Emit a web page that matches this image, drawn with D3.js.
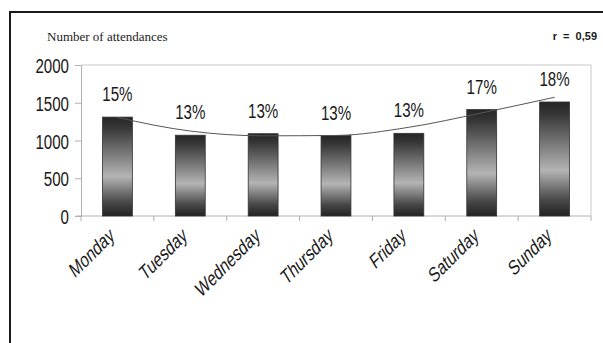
<!DOCTYPE html>
<html>
<head>
<meta charset="utf-8">
<script src="https://cdn.jsdelivr.net/npm/d3@7"></script>
<style>
  html, body { margin: 0; padding: 0; background: #fff; }
  svg { display: block; }
</style>
</head>
<body>
<svg id="chart" width="603" height="343"></svg>
<script>
// Attendances per weekday
const days = ["Monday", "Tuesday", "Wednesday", "Thursday", "Friday", "Saturday", "Sunday"];
const attendances = [1310, 1070, 1090, 1065, 1095, 1410, 1510];
const shareLabels = ["15%", "13%", "13%", "13%", "13%", "17%", "18%"];
// fitted trend curve, value at each weekday
const trend = [1305, 1125, 1062, 1067, 1175, 1365, 1573];
const yTicks = [0, 500, 1000, 1500, 2000];

const svg = d3.select("#chart");
const W = 603, H = 343;
const plot = { left: 81, right: 591, top: 65, bottom: 216 };

const x = d3.scaleBand().domain(days).range([plot.left, plot.right]).paddingInner(0).paddingOuter(0);
const y = d3.scaleLinear().domain([0, 2000]).range([plot.bottom, plot.top]);
const barW = x.bandwidth() * 0.41;

// outer frame (cut at right and bottom)
svg.append("path")
  .attr("d", `M10,${H + 2} L10,12 L${W + 2},12`)
  .attr("fill", "none").attr("stroke", "#1a1a1a").attr("stroke-width", 2);

// bar gradient: dark ends, light band below the middle
const defs = svg.append("defs");
const grad = defs.append("linearGradient").attr("id", "barGrad")
  .attr("x1", 0).attr("y1", 0).attr("x2", 0).attr("y2", 1);
[[0, "#262626"], [0.1, "#353535"], [0.6, "#b4b4b4"], [0.86, "#484848"], [1, "#222"]]
  .forEach(([o, c]) => grad.append("stop").attr("offset", o).attr("stop-color", c));

// plot area frame (top and right)
svg.append("path")
  .attr("d", `M${plot.left},${plot.top} L${plot.right},${plot.top} L${plot.right},${plot.bottom}`)
  .attr("fill", "none").attr("stroke", "#c8c8c8").attr("stroke-width", 1);

// y axis
const yAxis = svg.append("g").attr("transform", `translate(${plot.left},0)`)
  .call(d3.axisLeft(y).tickValues(yTicks).tickSize(6).tickPadding(6).tickFormat(d3.format("d")));
yAxis.select(".domain").attr("stroke", "#b0b0b0");
yAxis.selectAll(".tick line").attr("stroke", "#b0b0b0");
yAxis.selectAll(".tick text")
  .attr("font-family", "'Liberation Sans', Arial, sans-serif")
  .attr("font-size", 21).attr("fill", "#1a1a1a")
  .attr("dy", "0.36em")
  .attr("transform", function () {
    const xx = +d3.select(this).attr("x");
    return `translate(${xx},0) scale(0.72,1) translate(${-xx},0)`;
  });

// x axis with ticks on band edges
const xAxisG = svg.append("g").attr("transform", `translate(0,${plot.bottom})`);
xAxisG.append("line").attr("x1", plot.left - 5).attr("x2", plot.right)
  .attr("stroke", "#b0b0b0");
xAxisG.selectAll("line.tk").data(d3.range(days.length + 1)).join("line").attr("class", "tk")
  .attr("x1", i => plot.left + i * x.step()).attr("x2", i => plot.left + i * x.step())
  .attr("y1", 0).attr("y2", 5).attr("stroke", "#b0b0b0");

// bars
svg.append("g").selectAll("rect").data(days).join("rect")
  .attr("x", d => x(d) + (x.bandwidth() - barW) / 2)
  .attr("y", (d, i) => y(attendances[i]))
  .attr("width", barW)
  .attr("height", (d, i) => y(0) - y(attendances[i]))
  .attr("fill", "url(#barGrad)")
  .attr("stroke", "#333").attr("stroke-width", 0.8);

// trend curve
const line = d3.line()
  .x((d, i) => x(days[i]) + x.bandwidth() / 2)
  .y(d => y(d))
  .curve(d3.curveMonotoneX);
svg.append("path").datum(trend).attr("d", line)
  .attr("fill", "none").attr("stroke", "#555").attr("stroke-width", 1);

// share labels above bars
svg.append("g").selectAll("text").data(days).join("text")
  .attr("transform", (d, i) => `translate(${x(d) + x.bandwidth() / 2},${y(attendances[i]) - 16}) scale(0.72,1)`)
  .attr("text-anchor", "middle")
  .attr("font-family", "'Liberation Sans', Arial, sans-serif")
  .attr("font-size", 21).attr("fill", "#1a1a1a")
  .text((d, i) => shareLabels[i]);

// weekday labels, rotated and slanted
svg.append("g").selectAll("text").data(days).join("text")
  .attr("transform", d => `translate(${x(d) + x.bandwidth() / 2 - 2},${plot.bottom + 22}) rotate(-45) skewX(-14) scale(0.85,1)`)
  .attr("text-anchor", "end")
  .attr("font-family", "'Liberation Sans', Arial, sans-serif")
  .attr("font-size", 19).attr("fill", "#1a1a1a")
  .text(d => d);

// titles
svg.append("text").attr("x", 47).attr("y", 41)
  .attr("font-family", "'Liberation Serif', 'Times New Roman', serif")
  .attr("font-size", 13).attr("fill", "#1a1a1a")
  .text("Number of attendances");

svg.append("text").attr("x", 597).attr("y", 40)
  .attr("text-anchor", "end")
  .attr("font-family", "'Liberation Sans', Arial, sans-serif")
  .attr("font-weight", "bold").attr("font-size", 11).attr("fill", "#1a1a1a")
  .attr("xml:space", "preserve").style("white-space", "pre")
  .text("r  =  0,59");
</script>
</body>
</html>
